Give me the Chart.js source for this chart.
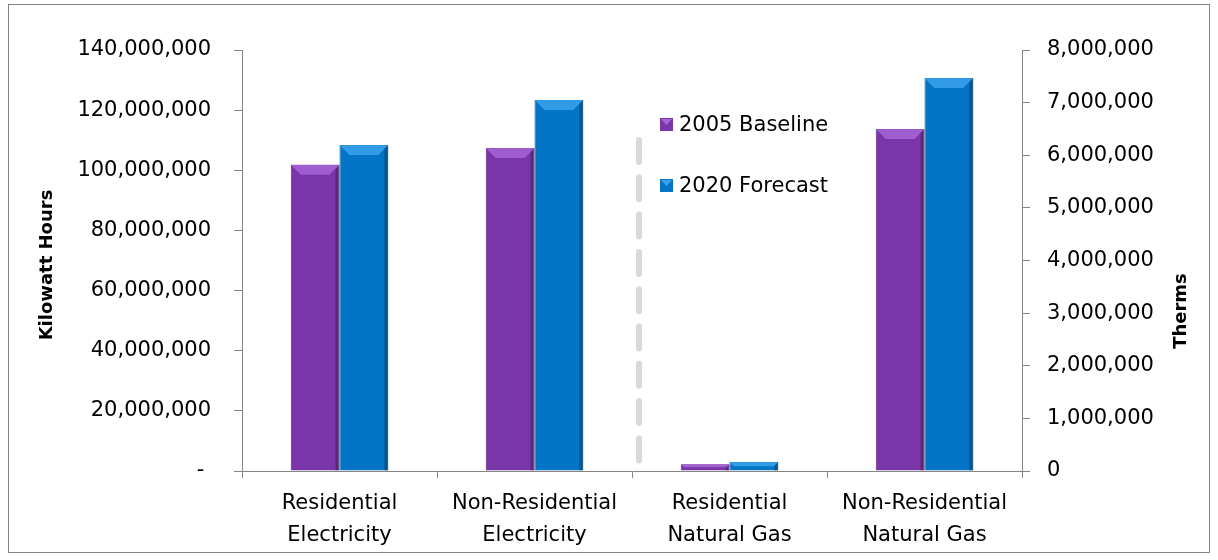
<!DOCTYPE html>
<html><head><meta charset="utf-8">
<script src="https://cdn.jsdelivr.net/npm/chart.js@4.4.0/dist/chart.umd.min.js"></script>
<style>html,body{margin:0;padding:0;background:#fff;}#wrap{width:1218px;height:560px;}</style>
</head><body><div id="wrap"><canvas id="c" width="1218" height="560"></canvas></div>
<script>
const categories = [["Residential","Electricity"],["Non-Residential","Electricity"],["Residential","Natural Gas"],["Non-Residential","Natural Gas"]];
const seriesNames = ["2005 Baseline","2020 Forecast"];
const electricity2005 = [101800000, 107400000, null, null];
const electricity2020 = [108400000, 123400000, null, null];
const gas2005 = [null, null, 130000, 6500000];
const gas2020 = [null, null, 170000, 7470000];
const leftAxisMax = 140000000, leftAxisStep = 20000000;
const rightAxisMax = 8000000, rightAxisStep = 1000000;
const leftTitle = "Kilowatt Hours";
const rightTitle = "Therms";

const PURPLE = '#7A36A9', PURPLE_D = '#5B2284', PURPLE_L = '#A565D6';
const BLUE = '#0474C6', BLUE_D = '#035896', BLUE_L = '#39A2EC';
const FONT = 'DejaVu Sans';
const AXIS = '#868686';

const fmt = v => v.toLocaleString('en-US');

const framePlugin = {
  id: 'frame',
  beforeDraw(chart) {
    const ctx = chart.ctx;
    ctx.save();
    ctx.fillStyle = '#fff';
    ctx.fillRect(0, 0, chart.width, chart.height);
    ctx.strokeStyle = AXIS; ctx.lineWidth = 1;
    ctx.strokeRect(8.5, 4.5, 1201, 548);
    ctx.restore();
  },
  beforeDatasetsDraw(chart) {
    // dashed separator between electricity and gas groups
    const ctx = chart.ctx, xs = chart.scales.x, a = chart.chartArea;
    const x = xs.getPixelForValue(1.5) + 7;
    ctx.save();
    ctx.strokeStyle = '#d9d9d9'; ctx.lineWidth = 6; ctx.lineCap = 'round';
    ctx.setLineDash([22, 15.3]);
    ctx.beginPath(); ctx.moveTo(x, a.top + 90); ctx.lineTo(x, a.bottom - 10); ctx.stroke();
    ctx.restore();
  },
  afterDatasetsDraw(chart) {
    // bevel highlights using element geometry
    const ctx = chart.ctx;
    chart.data.datasets.forEach((ds, di) => {
      const meta = chart.getDatasetMeta(di);
      const light = ds._light;
      meta.data.forEach(el => {
        if (el.skip || el.base === undefined || isNaN(el.y)) return;
        const w = el.width, l = el.x - w/2, r = el.x + w/2, t = el.y, b = el.base;
        const h = Math.min(10, (b - t) / 2);
        if (b - t < 1) return;
        ctx.save();
        ctx.fillStyle = light; ctx.globalAlpha = 0.85;
        ctx.beginPath(); ctx.moveTo(l, t); ctx.lineTo(r, t); ctx.lineTo(r - h, t + h); ctx.lineTo(l + h, t + h); ctx.closePath(); ctx.fill();
        ctx.globalAlpha = 0.25; ctx.fillStyle = '#000';
        ctx.beginPath(); ctx.moveTo(r, t); ctx.lineTo(r, b); ctx.lineTo(r - 4, b); ctx.lineTo(r - 4, t + 4); ctx.closePath(); ctx.fill();
        ctx.restore();
      });
    });
  },
  afterDraw(chart) {
    const ctx = chart.ctx, a = chart.chartArea;
    ctx.save();
    // legend
    ctx.font = '21px "' + FONT + '"'; ctx.textBaseline = 'middle'; ctx.textAlign = 'left';
    const items = [[seriesNames[0], PURPLE, PURPLE_L], [seriesNames[1], BLUE, BLUE_L]];
    items.forEach((it, i) => {
      const y = a.top + 75 + i * 61;
      const sx = a.left + 418;
      ctx.fillStyle = it[1]; ctx.fillRect(sx, y - 7, 13, 13);
      ctx.fillStyle = it[2]; ctx.beginPath(); ctx.moveTo(sx+1, y-6); ctx.lineTo(sx+12, y-6); ctx.lineTo(sx+6.5, y); ctx.closePath(); ctx.fill();
      ctx.fillStyle = '#000'; ctx.fillText(it[0], sx + 19, y + 1);
    });
    // axis titles
    ctx.font = 'bold 18px "' + FONT + '"'; ctx.textAlign = 'center';
    ctx.save(); ctx.translate(47, a.top + 215); ctx.rotate(-Math.PI/2); ctx.fillText(leftTitle, 0, 0); ctx.restore();
    ctx.save(); ctx.translate(1181, a.top + 261); ctx.rotate(-Math.PI/2); ctx.fillText(rightTitle, 0, 0); ctx.restore();
    ctx.restore();
  }
};

const common = { categoryPercentage: 0.5, barPercentage: 1.0, skipNull: true, borderWidth: 1 };
new Chart(document.getElementById('c'), {
  type: 'bar',
  data: {
    labels: categories,
    datasets: [
      Object.assign({ label: seriesNames[0], data: electricity2005, yAxisID: 'y', backgroundColor: PURPLE, borderColor: PURPLE_D, _light: PURPLE_L }, common),
      Object.assign({ label: seriesNames[1], data: electricity2020, yAxisID: 'y', backgroundColor: BLUE, borderColor: BLUE_D, _light: BLUE_L }, common),
      Object.assign({ label: seriesNames[0] + ' (gas)', data: gas2005, yAxisID: 'y1', backgroundColor: PURPLE, borderColor: PURPLE_D, _light: PURPLE_L }, common),
      Object.assign({ label: seriesNames[1] + ' (gas)', data: gas2020, yAxisID: 'y1', backgroundColor: BLUE, borderColor: BLUE_D, _light: BLUE_L }, common)
    ]
  },
  options: {
    responsive: false, animation: false, devicePixelRatio: 1,
    layout: { padding: { top: 50, left: 0, right: 0, bottom: 0 } },
    plugins: { legend: { display: false }, tooltip: { enabled: false } },
    scales: {
      x: {
        afterFit: s => { s.height = 89; },
        grid: { display: true, drawOnChartArea: false, color: AXIS, tickLength: 7, offset: true },
        border: { display: true, color: AXIS, width: 1 },
        ticks: { color: '#000', padding: 10, font: { family: FONT, size: 21, lineHeight: 1.5 }, maxRotation: 0 }
      },
      y: {
        position: 'left', min: 0, max: leftAxisMax,
        afterFit: s => { s.width = 242; },
        grid: { display: true, drawOnChartArea: false, color: AXIS, tickLength: 8 },
        border: { display: true, color: AXIS, width: 1 },
        ticks: { stepSize: leftAxisStep, color: '#000', padding: 23, font: { family: FONT, size: 21 },
          callback: v => v === 0 ? '- ' : fmt(v) }
      },
      y1: {
        position: 'right', min: 0, max: rightAxisMax,
        afterFit: s => { s.width = 196; },
        grid: { display: true, drawOnChartArea: false, color: AXIS, tickLength: 8 },
        border: { display: true, color: AXIS, width: 1 },
        ticks: { stepSize: rightAxisStep, color: '#000', padding: 17, font: { family: FONT, size: 21 },
          callback: v => fmt(v) }
      }
    }
  },
  plugins: [framePlugin]
});
</script></body></html>
